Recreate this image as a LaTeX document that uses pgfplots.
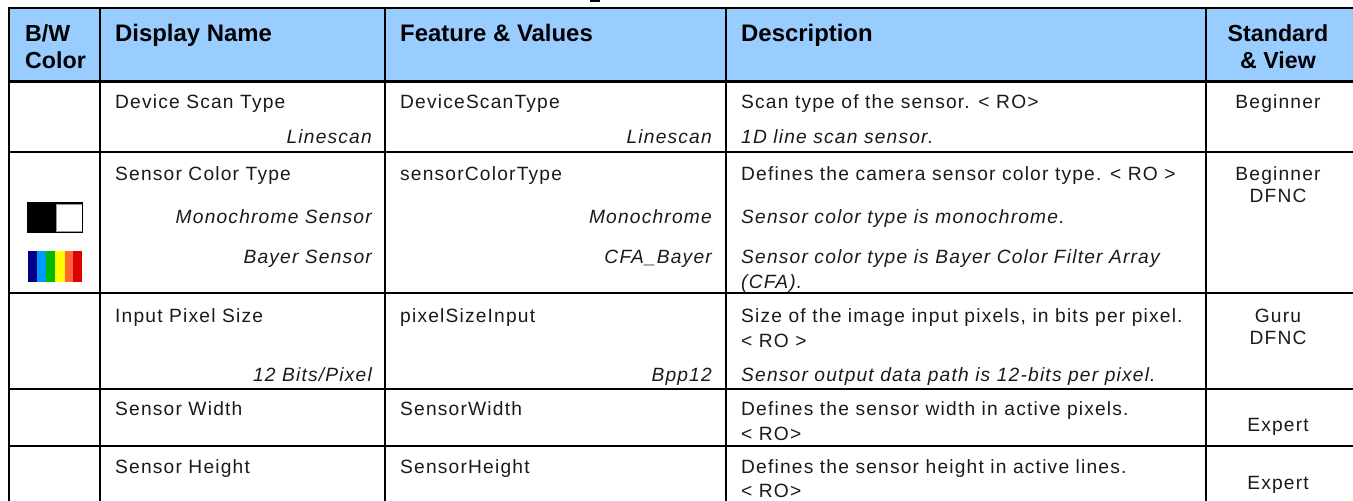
\documentclass[border=0pt]{standalone}
\usepackage{pgfplots}
\pgfplotsset{compat=1.18}
\usepackage{fontspec}
\setmainfont{Liberation Sans}
\newfontfamily\bodyf[LetterSpace=6.2]{Liberation Sans}
\definecolor{hdr}{HTML}{99CCFF}
\definecolor{txt}{HTML}{1A1A1A}
\definecolor{cNavy}{HTML}{000088}
\definecolor{cBlue}{HTML}{0099FF}
\definecolor{cGreen}{HTML}{00BB00}
\definecolor{cYellow}{HTML}{FFFF00}
\definecolor{cOrange}{HTML}{FF6633}
\definecolor{cRed}{HTML}{DD0000}
\newcommand{\B}[1]{\fontsize{19.2}{22}\selectfont\bodyf\color{txt}#1}
\newcommand{\I}[1]{\fontsize{19.2}{22}\selectfont\bodyf\itshape\color{txt}#1}
\newcommand{\Hd}[1]{\fontsize{23.9}{26}\selectfont\bfseries\color{black}#1}
\newcommand{\HdS}[1]{\fontsize{23.2}{26}\selectfont\bfseries\color{black}#1}
\newcommand{\tl}[3]{\node[anchor=base west,inner sep=0pt] at (axis cs:#1,#2) {#3};}
\newcommand{\tr}[3]{\node[anchor=base east,inner sep=0pt] at (axis cs:#1,#2) {#3};}
\newcommand{\tc}[3]{\node[anchor=base,inner sep=0pt] at (axis cs:#1,#2) {#3};}
\newcommand{\rc}[5]{\addplot[draw=none,fill=#5,forget plot] coordinates {(#1,#2) (#3,#2) (#3,#4) (#1,#4)} -- cycle;}
\begin{document}
\begin{tikzpicture}
\begin{axis}[
  at={(0,0)},anchor=south west,
  scale only axis,width=1353pt,height=501pt,
  xmin=0,xmax=1353,ymin=0,ymax=501,y dir=reverse,
  hide axis,clip=true]
% header
\rc{9}{8}{1353}{81.5}{hdr}
% icons
\rc{27}{202}{83.3}{232.7}{black}
\rc{56}{203.5}{82.3}{231.7}{gray!80}
\rc{57}{204.5}{81.8}{231}{white}
\rc{28}{251}{36.5}{281.7}{cNavy}
\rc{36.5}{251}{46}{281.7}{cBlue}
\rc{46}{251}{55}{281.7}{cGreen}
\rc{55}{251}{64.5}{281.7}{cYellow}
\rc{64.5}{251}{73}{281.7}{cOrange}
\rc{73}{251}{82}{281.7}{cRed}
% grid
\pgfplotsinvokeforeach{8,81.5,152,293,389,446}{
  \addplot[black,line width=2.3pt,forget plot] coordinates {(8,#1) (1353,#1)};
}
\pgfplotsinvokeforeach{9,100,385,726,1206}{
  \addplot[black,line width=2.3pt,forget plot] coordinates {(#1,7) (#1,501)};
}
\addplot[black,line width=2pt,forget plot] coordinates {(590,1) (600,1)};
% header text
\tl{25}{41}{\HdS{B/W}}
\tl{25}{68}{\HdS{Color}}
\tl{115}{41}{\Hd{Display Name}}
\tl{400}{41}{\Hd{Feature \& Values}}
\tl{741}{41}{\Hd{Description}}
\tc{1278}{41}{\HdS{Standard}}
\tc{1278}{68}{\HdS{\& View}}
% row 1
\tl{115}{108}{\B{Device Scan Type}}
\tr{372}{143}{\I{Linescan}}
\tl{400}{108}{\B{DeviceScanType}}
\tr{712}{143}{\I{Linescan}}
\tl{741}{108}{\B{Scan type of the sensor. < RO>}}
\tl{741}{143}{\I{1D line scan sensor.}}
\tc{1278}{108}{\B{Beginner}}
% row 2
\tl{115}{180}{\B{Sensor Color Type}}
\tr{372}{223}{\I{Monochrome Sensor}}
\tr{372}{263}{\I{Bayer Sensor}}
\tl{400}{180}{\B{sensorColorType}}
\tr{712}{223}{\I{Monochrome}}
\tr{712}{263}{\I{CFA\_Bayer}}
\tl{741}{180}{\B{Defines the camera sensor color type. < RO >}}
\tl{741}{223}{\I{Sensor color type is monochrome.}}
\tl{741}{263}{\I{Sensor color type is Bayer Color Filter Array}}
\tl{741}{288}{\I{(CFA).}}
\tc{1278}{180}{\B{Beginner}}
\tc{1278}{202}{\B{DFNC}}
% row 3
\tl{115}{322}{\B{Input Pixel Size}}
\tr{372}{381}{\I{12 Bits/Pixel}}
\tl{400}{322}{\B{pixelSizeInput}}
\tr{712}{381}{\I{Bpp12}}
\tl{741}{322}{\B{Size of the image input pixels, in bits per pixel.}}
\tl{741}{347}{\B{< RO >}}
\tl{741}{381}{\I{Sensor output data path is 12-bits per pixel.}}
\tc{1278}{322}{\B{Guru}}
\tc{1278}{344}{\B{DFNC}}
% row 4
\tl{115}{415}{\B{Sensor Width}}
\tl{400}{415}{\B{SensorWidth}}
\tl{741}{415}{\B{Defines the sensor width in active pixels.}}
\tl{741}{440}{\B{< RO>}}
\tc{1278}{431}{\B{Expert}}
% row 5
\tl{115}{473}{\B{Sensor Height}}
\tl{400}{473}{\B{SensorHeight}}
\tl{741}{473}{\B{Defines the sensor height in active lines.}}
\tl{741}{497}{\B{< RO>}}
\tc{1278}{489}{\B{Expert}}
\end{axis}
\pgfresetboundingbox
\path[use as bounding box] (0,0) rectangle (1353pt,501pt);
\end{tikzpicture}
\end{document}
